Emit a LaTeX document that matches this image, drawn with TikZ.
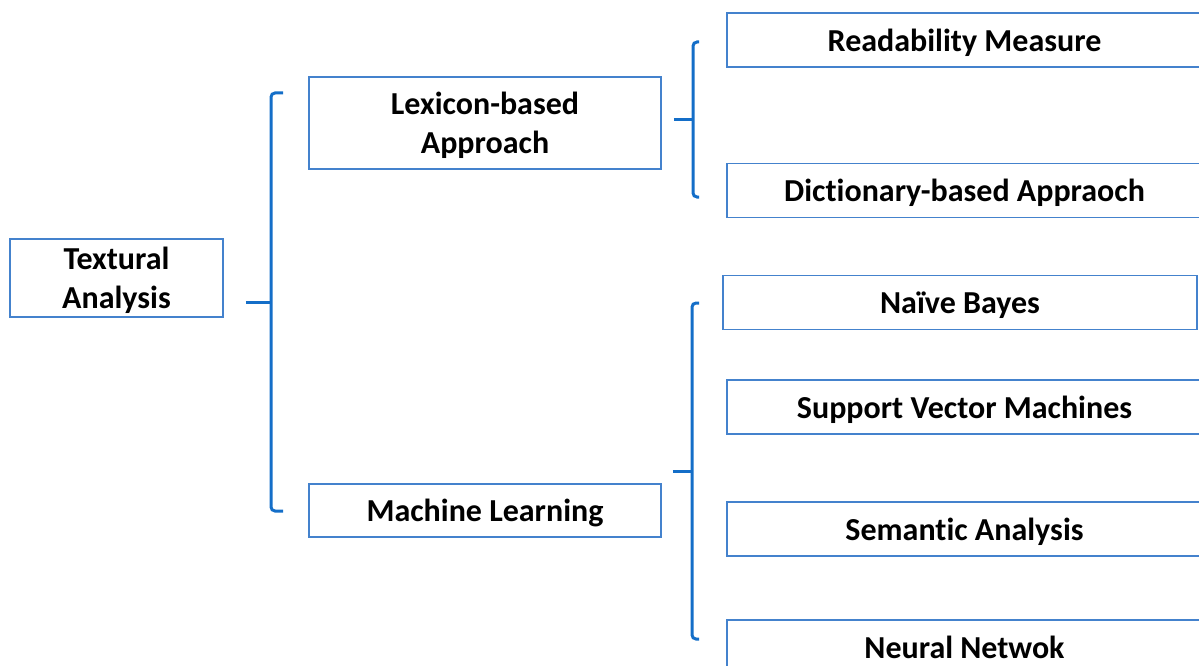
\documentclass[tikz,border=0pt]{standalone}
\usepackage{fontspec}
\setmainfont[Ligatures=NoCommon]{Carlito}
\usetikzlibrary{calc}
\definecolor{boxblue}{RGB}{68,130,205}
\definecolor{lineblue}{RGB}{20,110,200}
\begin{document}
\begin{tikzpicture}[x=1pt,y=-1pt,
  box/.style={draw=boxblue, line width=1.6pt, rectangle, inner sep=0pt,
    text depth=0pt, align=center, text=black,
    font=\fontsize{32}{39}\selectfont\bfseries},
  leaf/.style={box, minimum width=475, minimum height=54},
  brace/.style={draw=lineblue, line width=3pt, rounded corners=4pt},
  stub/.style={draw=lineblue, line width=3pt}]
\useasboundingbox (0,0) rectangle (1199,666);
\clip (0,0) rectangle (1199,666);

% root
\node[box, minimum width=213, minimum height=78] (ta) at (116.5,278) {Textural\\Analysis};

% second level
\node[box, minimum width=352, minimum height=92] (lex) at (485,123) {Lexicon-based\\Approach};
\node[box, minimum width=352, minimum height=53] (ml) at (485,510.5) {Machine Learning};

% leaves
\node[leaf] (read) at (964.5,40) {Readability Measure};
\node[leaf] (dict) at (964.5,190.5) {Dictionary-based Appraoch};
\node[leaf, minimum width=474] (nb) at (960,302.5) {Naïve Bayes};
\node[leaf] (svm) at (964.5,407) {Support Vector Machines};
\node[leaf] (sem) at (964.5,529) {Semantic Analysis};
\node[leaf] (nn) at (964.5,647) {Neural Netwok};

% bracket from the root
\coordinate (b1s) at ($(ta.east)+(22,0)$);
\coordinate (b1t) at (283,93);
\coordinate (b1b) at (283,511);
\coordinate (b1m) at (271,302);
\draw[stub] (b1s |- b1m) -- (b1m);
\draw[brace] (b1t) -- (271,93) -- (271,511) -- (b1b);

% bracket from the lexicon node
\coordinate (b2t) at (699,42);
\coordinate (b2b) at (699,197);
\coordinate (b2m) at (693,119.5);
\draw[stub] ($(lex.east |- b2m)+(12,0)$) -- (b2m);
\draw[brace] (b2t) -- (693,42) -- (693,197) -- (b2b);

% bracket from the machine learning node
\coordinate (b3t) at (699,303);
\coordinate (b3b) at (699,639);
\coordinate (b3m) at (692,471);
\draw[stub] ($(ml.east |- b3m)+(11,0)$) -- (b3m);
\draw[brace] (b3t) -- (692,303) -- (692,639) -- (b3b);
\end{tikzpicture}
\end{document}
